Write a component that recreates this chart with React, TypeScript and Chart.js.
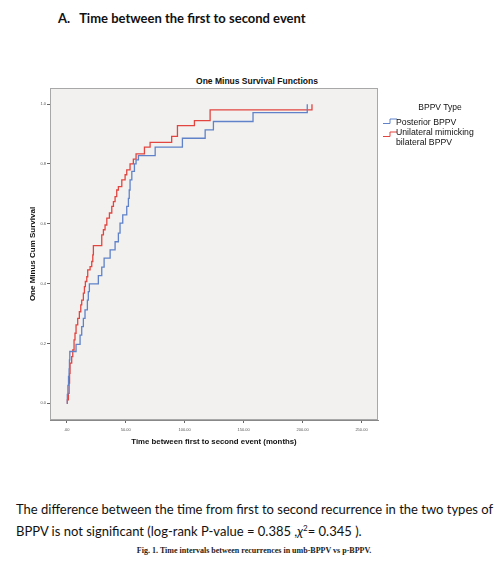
import React, { useEffect, useRef } from "react";
import { Chart, registerables } from "chart.js";

Chart.register(...registerables);

// Posterior BPPV (blue): event times (months) and one-minus cumulative survival
const posteriorTimes = [0, 0.5, 1, 1.5, 2, 2.3, 2.6, 7.9, 11.3, 12.7, 14.1, 15.5, 17.5, 18.3, 19.2, 26.8, 29.7, 31.7, 36.8, 41, 43.8, 45.2, 47.5, 50.9, 52.3, 53, 53.7, 55.2, 57.4, 58.8, 60.8, 75, 98.1, 117.4, 124.4, 158, 204];
const posteriorValues = [0, 0.03, 0.06, 0.09, 0.115, 0.145, 0.173, 0.197, 0.228, 0.256, 0.284, 0.312, 0.345, 0.373, 0.399, 0.427, 0.455, 0.485, 0.513, 0.54, 0.569, 0.602, 0.63, 0.658, 0.685, 0.713, 0.747, 0.775, 0.8, 0.814, 0.828, 0.856, 0.886, 0.914, 0.942, 0.972, 1.0];

// Unilateral mimicking bilateral BPPV (red)
const unilateralTimes = [0, 0.5, 1.4, 2, 2.4, 2.8, 4.2, 5.1, 6.2, 7, 7.9, 9.3, 10.7, 11.9, 12.7, 14.1, 15, 15.8, 17, 17.8, 19.8, 21.2, 22.1, 22.6, 29.7, 31.1, 32.5, 34, 36.2, 38.2, 39.6, 41, 42.4, 43.8, 46.7, 49.5, 50.9, 53.7, 56.5, 58.8, 65.9, 70.7, 89, 93.9, 108.3, 121.6, 208];
const unilateralValues = [0, 0.011, 0.033, 0.067, 0.1, 0.134, 0.156, 0.178, 0.212, 0.234, 0.262, 0.284, 0.306, 0.329, 0.345, 0.368, 0.39, 0.407, 0.423, 0.446, 0.457, 0.474, 0.496, 0.527, 0.563, 0.58, 0.596, 0.619, 0.636, 0.658, 0.674, 0.691, 0.713, 0.724, 0.747, 0.764, 0.78, 0.8, 0.816, 0.834, 0.856, 0.872, 0.892, 0.928, 0.945, 0.981, 1.0];

const xTicks = [0, 50, 100, 150, 200, 250];
const xTickLabels = [".00", "50.00", "100.00", "150.00", "200.00", "250.00"];
const yTicks = [0, 0.2, 0.4, 0.6, 0.8, 1.0];
const yTickLabels = ["0.0", "0.2", "0.4", "0.6", "0.8", "1.0"];

const seriesNames = ["Posterior BPPV", "Unilateral mimicking bilateral BPPV"];
const BLUE = "#5f82c8";
const RED = "#e2453f";

const framePlugin = {
  id: "frame",
  beforeDatasetsDraw(chart: any) {
    const { ctx, chartArea: a } = chart;
    ctx.save();
    ctx.fillStyle = "#f2f1f0";
    ctx.fillRect(a.left, a.top, a.right - a.left, a.bottom - a.top);
    ctx.restore();
  },
  afterDraw(chart: any) {
    const { ctx, chartArea: a } = chart;
    ctx.save();
    ctx.strokeStyle = "#a8a8a8";
    ctx.lineWidth = 1;
    ctx.strokeRect(a.left + 0.5, a.top + 0.5, a.right - a.left - 1, a.bottom - a.top - 1);
    ctx.restore();
  },
};

function KMChart() {
  const ref = useRef<HTMLCanvasElement>(null);
  useEffect(() => {
    if (!ref.current) return;
    const chart = new Chart(ref.current, {
      type: "line",
      data: {
        datasets: [
          {
            label: seriesNames[0],
            data: posteriorTimes.map((t, i) => ({ x: t, y: posteriorValues[i] })),
            borderColor: BLUE,
            borderWidth: 1.3,
            stepped: true,
            pointRadius: 0,
            fill: false,
          },
          {
            label: seriesNames[1],
            data: unilateralTimes.map((t, i) => ({ x: t, y: unilateralValues[i] })),
            borderColor: RED,
            borderWidth: 1.3,
            stepped: true,
            pointRadius: 0,
            fill: false,
          },
        ],
      },
      options: {
        animation: false,
        responsive: false,
        devicePixelRatio: 1,
        layout: { padding: { top: 28, left: 20, right: 122, bottom: 0 } },
        plugins: {
          legend: { display: false },
          tooltip: { enabled: false },
          title: { display: false },
        },
        scales: {
          x: {
            type: "linear",
            min: -14.2,
            max: 264,
            afterBuildTicks: (axis: any) => {
              axis.ticks = xTicks.map((v) => ({ value: v }));
            },
            afterFit: (axis: any) => {
              axis.height = 40;
            },
            ticks: {
              autoSkip: false,
              maxRotation: 0,
              padding: 4,
              font: { size: 4, family: "Liberation Sans" },
              color: "#555",
              callback: (v: any) => {
                const i = xTicks.indexOf(Number(v));
                return i >= 0 ? xTickLabels[i] : "";
              },
            },
            grid: { drawOnChartArea: false, tickLength: 3, color: "#666" },
            border: { display: true, color: "#888" },
            title: {
              display: true,
              text: "Time between first to second event (months)",
              font: { size: 7.8, weight: "bold", family: "Liberation Sans" },
              color: "#111",
              padding: { top: 4, bottom: 13.5 },
            },
          },
          y: {
            type: "linear",
            min: -0.056,
            max: 1.054,
            afterBuildTicks: (axis: any) => {
              axis.ticks = yTicks.map((v) => ({ value: v }));
            },
            afterFit: (axis: any) => {
              axis.width = 30;
            },
            ticks: {
              autoSkip: false,
              padding: 1,
              font: { size: 4, family: "Liberation Sans" },
              color: "#555",
              callback: (v: any) => {
                const i = yTicks.findIndex((t) => Math.abs(t - Number(v)) < 1e-6);
                return i >= 0 ? yTickLabels[i] : "";
              },
            },
            grid: { drawOnChartArea: false, tickLength: 3, color: "#666" },
            border: { display: true, color: "#888" },
            title: {
              display: true,
              text: "One Minus Cum Survival",
              font: { size: 8, weight: "bold", family: "Liberation Sans" },
              color: "#111",
              padding: { top: 8, bottom: 0 },
            },
          },
        },
      },
      plugins: [framePlugin],
    } as any);
    return () => chart.destroy();
  }, []);
  return <canvas ref={ref} width={500} height={400} style={{ position: "absolute", left: 0, top: 60, width: 500, height: 400 }} />;
}

function StepIcon({ color }: { color: string }) {
  return (
    <svg width={14} height={7} style={{ position: "absolute", left: 0, top: 0 }}>
      <polyline points="0,5.5 7,5.5 7,1 14,1" fill="none" stroke={color} strokeWidth={1} />
    </svg>
  );
}

export default function App() {
  const arial = "'Liberation Sans', Arial, sans-serif";
  return (
    <div style={{ position: "absolute", left: 0, top: 0, width: 500, height: 566, background: "#fff", overflow: "hidden" }}>
      <div style={{ position: "absolute", left: 58, top: 10, fontFamily: "Lato, sans-serif", fontWeight: 700, fontSize: 13, color: "#111", whiteSpace: "nowrap" }}>
        <span>A.</span>
        <span style={{ marginLeft: 9 }}>Time between the first to second event</span>
      </div>
      <div style={{ position: "absolute", left: 157, width: 200, top: 76, textAlign: "center", fontFamily: arial, fontWeight: 700, fontSize: 8.5, color: "#111", whiteSpace: "nowrap" }}>
        One Minus Survival Functions
      </div>
      <KMChart />
      <div style={{ position: "absolute", left: 400, width: 80, top: 101.5, textAlign: "center", fontFamily: arial, fontSize: 8.5, color: "#111" }}>BPPV Type</div>
      <div style={{ position: "absolute", left: 383, top: 118 }}>
        <StepIcon color={BLUE} />
      </div>
      <div style={{ position: "absolute", left: 396, top: 116.5, fontFamily: arial, fontSize: 8.7, lineHeight: "10px", color: "#111", whiteSpace: "nowrap" }}>{seriesNames[0]}</div>
      <div style={{ position: "absolute", left: 383, top: 131 }}>
        <StepIcon color={RED} />
      </div>
      <div style={{ position: "absolute", left: 396, top: 127, fontFamily: arial, fontSize: 8.7, lineHeight: "10px", color: "#111", whiteSpace: "nowrap" }}>
        Unilateral mimicking
        <br />
        bilateral BPPV
      </div>
      <div style={{ position: "absolute", left: 16, top: 500, fontFamily: "Lato, sans-serif", fontSize: 13, lineHeight: "19px", color: "#111", whiteSpace: "nowrap" }}>
        The difference between the time from first to second recurrence in the two types of
        <br />
        BPPV is not significant (log-rank P-value = 0.385 ,<i>χ</i>
        <sup style={{ fontSize: 8, verticalAlign: "5px" }}>2</sup>= 0.345 ).
      </div>
      <div style={{ position: "absolute", left: 0, width: 508, top: 546, textAlign: "center", fontFamily: "'Liberation Serif', serif", fontWeight: 700, fontSize: 8, color: "#222", whiteSpace: "nowrap" }}>
        Fig. 1. <span style={{ fontWeight: 600 }}>Time intervals between recurrences in umb-BPPV vs p-BPPV.</span>
      </div>
    </div>
  );
}
